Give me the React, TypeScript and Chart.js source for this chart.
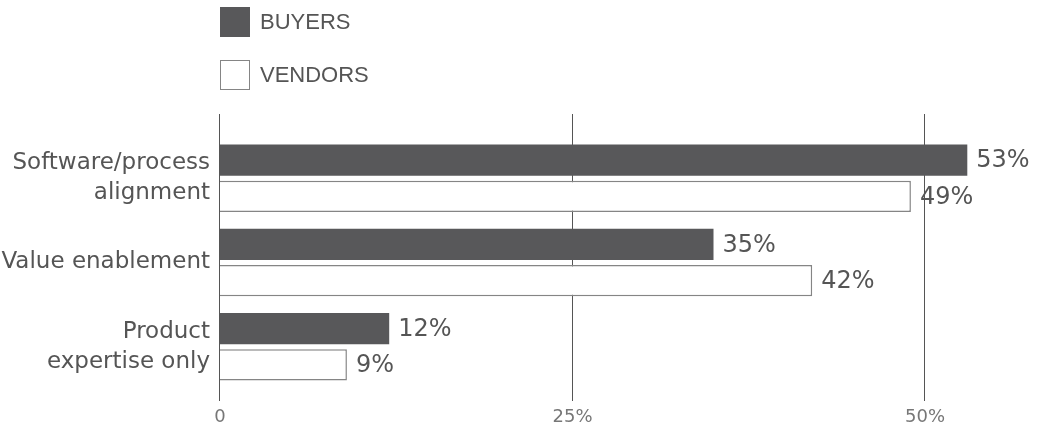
import React, { useEffect, useRef } from "react";
import { Chart, registerables } from "chart.js";

Chart.register(...registerables);

const categories: string[][] = [
  ["Software/process", "alignment"],
  ["Value enablement"],
  ["Product", "expertise only"],
];
const buyers: number[] = [53, 35, 12];
const vendors: number[] = [49, 42, 9];
const seriesNames: string[] = ["BUYERS", "VENDORS"];
const xTickValues: number[] = [0, 25, 50];
const xMax = 55;

const DARK = "#58585a";
const TEXT = "#555555";
const BORDER = "#858585";

export default function App() {
  const canvasRef = useRef<HTMLCanvasElement | null>(null);

  useEffect(() => {
    const canvas = canvasRef.current;
    if (!canvas) return;

    const gridPlugin = {
      id: "customGrid",
      beforeDatasetsDraw(chart: any) {
        const { ctx, chartArea, scales } = chart;
        const x = scales.x;
        ctx.save();
        ctx.strokeStyle = "#555555";
        ctx.lineWidth = 1;
        xTickValues.forEach((v) => {
          const px = Math.round(x.getPixelForValue(v)) - 0.5;
          ctx.beginPath();
          ctx.moveTo(px, chartArea.top - 22);
          ctx.lineTo(px, chartArea.bottom + 12);
          ctx.stroke();
        });
        ctx.restore();
      },
    };

    const labelPlugin = {
      id: "barLabels",
      afterDatasetsDraw(chart: any) {
        const { ctx } = chart;
        ctx.save();
        ctx.font = "24px 'DejaVu Sans'";
        ctx.fillStyle = TEXT;
        ctx.textAlign = "left";
        ctx.textBaseline = "middle";
        chart.data.datasets.forEach((ds: any, di: number) => {
          const meta = chart.getDatasetMeta(di);
          meta.data.forEach((bar: any, i: number) => {
            ctx.fillText(ds.data[i] + "%", bar.x + 9, bar.y + 1);
          });
        });
        ctx.restore();
      },
    };

    const chart = new Chart(canvas, {
      type: "bar",
      data: {
        labels: categories,
        datasets: [
          {
            label: seriesNames[0],
            data: buyers,
            backgroundColor: DARK,
            borderWidth: 0,
            categoryPercentage: 0.86,
            barPercentage: 0.86,
          },
          {
            label: seriesNames[1],
            data: vendors,
            backgroundColor: "#ffffff",
            borderColor: BORDER,
            borderWidth: 1.5,
            categoryPercentage: 0.86,
            barPercentage: 0.86,
          },
        ],
      },
      options: {
        indexAxis: "y",
        responsive: false,
        animation: false,
        layout: { padding: { top: 136, right: 51.5, left: 0, bottom: 0 } },
        plugins: {
          legend: { display: false },
          tooltip: { enabled: false },
        },
        scales: {
          x: {
            type: "linear",
            min: 0,
            max: xMax,
            grid: { display: false, drawTicks: false },
            border: { display: false },
            afterBuildTicks: (scale: any) => {
              scale.ticks = xTickValues.map((v) => ({ value: v }));
            },
            afterFit: (scale: any) => {
              scale.height = 37;
              scale.paddingLeft = 0;
              scale.paddingRight = 0;
            },
            ticks: {
              padding: 18,
              color: "#777777",
              font: { family: "'DejaVu Sans'", size: 18 },
              callback: (v: any) => (Number(v) === 0 ? "0" : v + "%"),
            },
          },
          y: {
            type: "category",
            grid: { display: false, drawTicks: false },
            border: { display: false },
            afterFit: (scale: any) => {
              scale.width = 220;
              scale.paddingTop = 0;
              scale.paddingBottom = 0;
            },
            ticks: {
              padding: 10,
              color: TEXT,
              font: { family: "'DejaVu Sans'", size: 23, lineHeight: 1.3 },
            },
          },
        },
      },
      plugins: [gridPlugin, labelPlugin],
    });

    return () => chart.destroy();
  }, []);

  const legendItem = (name: string, filled: boolean) => (
    <div style={{ display: "flex", alignItems: "center", height: 30 }}>
      <div
        style={{
          width: 30,
          height: 30,
          boxSizing: "border-box",
          background: filled ? DARK : "#ffffff",
          border: filled ? "none" : `1.5px solid ${BORDER}`,
        }}
      />
      <span
        style={{
          marginLeft: 10,
          fontFamily: "'Liberation Sans', Arial, sans-serif",
          fontSize: 22,
          color: TEXT,
          lineHeight: "30px",
        }}
      >
        {name}
      </span>
    </div>
  );

  return (
    <div
      style={{
        position: "fixed",
        left: 0,
        top: 0,
        width: 1047,
        height: 426,
        background: "#ffffff",
      }}
    >
      <canvas ref={canvasRef} width={1047} height={426} style={{ display: "block" }} />
      <div
        style={{
          position: "absolute",
          left: 220,
          top: 7,
          display: "flex",
          flexDirection: "column",
          gap: 23,
        }}
      >
        {legendItem(seriesNames[0], true)}
        {legendItem(seriesNames[1], false)}
      </div>
    </div>
  );
}
